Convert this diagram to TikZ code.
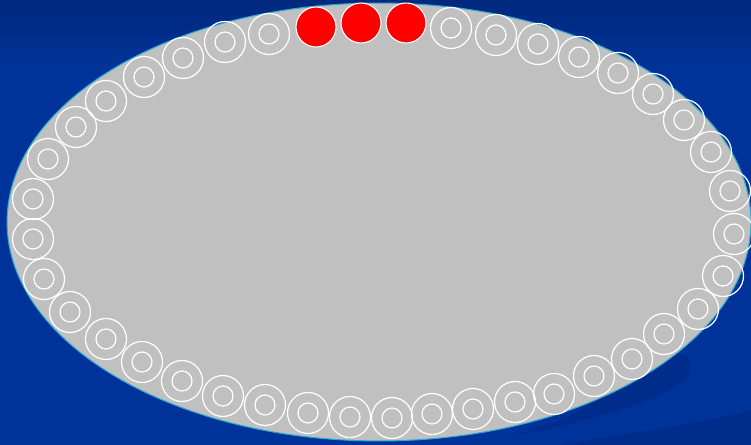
\documentclass[tikz,border=0pt]{standalone}
\usepackage{tikz}
\definecolor{slide}{RGB}{0,51,153}
\definecolor{slidetop}{RGB}{0,40,125}
\definecolor{swoosh}{RGB}{0,45,140}
\definecolor{plate}{RGB}{192,192,192}
\definecolor{rim}{RGB}{40,170,210}
\definecolor{bead}{RGB}{255,0,0}

\begin{document}
\begin{tikzpicture}[x=0.02cm,y=-0.02cm,
    ring/.style={draw=white,line width=0.7pt},
    beadfill/.style={fill=bead,draw=white,line width=0.6pt}]
  % background
  \fill[slide] (0,0) rectangle (751,445);
  \shade[top color=slidetop,bottom color=slide] (0,0) rectangle (751,70);
  \useasboundingbox (0,0) rectangle (751,445);
  % darker swooshes, bottom right
  \fill[swoosh] (470,445) .. controls (600,420) and (700,395) .. (690,360)
    .. controls (680,340) and (640,380) .. (560,420) .. controls (520,435) and (490,442) .. (470,445) -- cycle;
  \fill[swoosh] (560,445) .. controls (650,430) and (720,420) .. (751,410) -- (751,445) -- cycle;
  % the plate
  \fill[plate,draw=rim,line width=0.6pt] (379,222) ellipse [x radius=7.44cm,y radius=4.38cm];
  % rings round the plate
  \foreach \cx/\cy in {225/42,269/34,451/28,496/35,538/44,579/57,618/73,653/94,
      684/120,711/152,730/191,734/234,723/276,698/309,664/334,632/359,594/376,
      554/394,515/402,473/409,432/414,392/418,350/417,308/413,265/405,223/396,
      182/381,142/362,106/339,70/312,44/279,33/239,33/199,48/159,76/127,106/101,
      144/77,183/58} {
    \draw[ring] (\cx,\cy) circle (0.41cm);
    \draw[ring] (\cx,\cy) circle (0.2cm);
  }
  % red beads at the top
  \foreach \cx/\cy in {316/27,361/23,406/23} {\fill[beadfill] (\cx,\cy) circle (0.4cm);}
\end{tikzpicture}
\end{document}
